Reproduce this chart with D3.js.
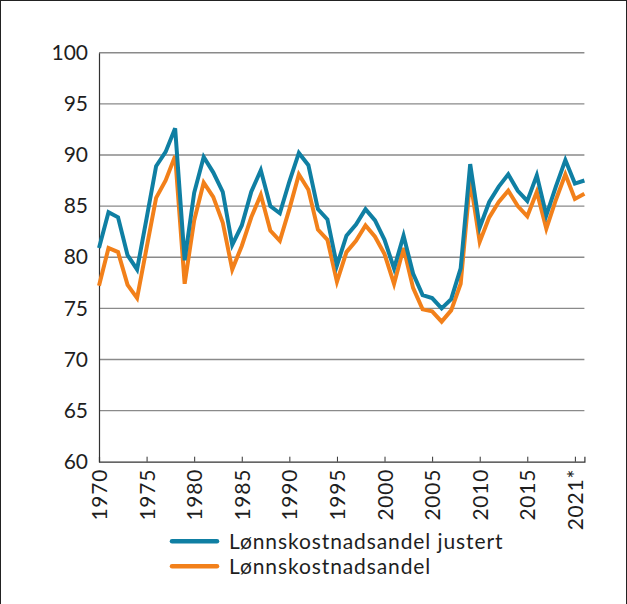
<!DOCTYPE html>
<html lang="no">
<head>
<meta charset="UTF-8">
<title>Lønnskostnadsandel</title>
<script src="https://d3js.org/d3.v7.min.js"></script>
<style>
  body { margin: 0; background: #fff; }
  svg text { font-family: Lato, "Open Sans", sans-serif; fill: #1e1e1e; }
</style>
</head>
<body>
<div id="chart"></div>
<script>
// years 1970-2021
var years = d3.range(1970, 2022);

var justert = [
  80.9, 84.4, 83.9, 80.2, 78.8, 83.8, 88.9, 90.3, 92.6, 79.7,
  86.3, 89.8, 88.3, 86.4, 81.2, 83.1, 86.4, 88.5, 85.0, 84.3,
  87.4, 90.2, 89.0, 84.7, 83.7, 79.2, 82.1, 83.2, 84.7, 83.6,
  81.7, 78.9, 82.1, 78.4, 76.3, 76.0, 75.0, 75.9, 78.9, 89.1,
  82.9, 85.4, 86.9, 88.1, 86.5, 85.5, 88.0, 84.1, 86.9, 89.5,
  87.2, 87.5
];

var andel = [
  77.2, 80.9, 80.5, 77.3, 76.0, 80.9, 85.8, 87.5, 89.9, 77.4,
  83.6, 87.3, 85.9, 83.4, 78.8, 81.1, 83.9, 86.1, 82.6, 81.6,
  84.7, 88.1, 86.6, 82.7, 81.7, 77.6, 80.5, 81.6, 83.1, 82.0,
  80.3, 77.4, 80.9, 77.0, 74.9, 74.7, 73.7, 74.8, 77.4, 87.6,
  81.5, 83.9, 85.4, 86.5, 85.0, 84.0, 86.4, 82.8, 85.6, 88.1,
  85.7, 86.2
];

var yTicks = [60, 65, 70, 75, 80, 85, 90, 95, 100];
var xTicks = [1970, 1975, 1980, 1985, 1990, 1995, 2000, 2005, 2010, 2015, 2020];
var xTickLabels = ["1970", "1975", "1980", "1985", "1990", "1995", "2000", "2005", "2010", "2015", "2021*"];

var seriesNames = ["Lønnskostnadsandel justert", "Lønnskostnadsandel"];
var colors = ["#0f7fa3", "#f2801a"];

var W = 627, H = 604;
var margin = { top: 52.7, right: 42.6, bottom: 142.3, left: 99 };
var fontSize = 21;

var svg = d3.select("#chart").append("svg")
  .attr("width", W)
  .attr("height", H);

// frame
svg.append("rect")
  .attr("x", 0.5).attr("y", 0.5)
  .attr("width", W - 1).attr("height", H + 5)
  .attr("fill", "none")
  .attr("stroke", "#222")
  .attr("stroke-width", 1);

var x = d3.scaleLinear()
  .domain([1970, 2021])
  .range([margin.left, W - margin.right]);

var y = d3.scaleLinear()
  .domain([60, 100])
  .range([H - margin.bottom, margin.top]);

// gridlines
svg.append("g")
  .selectAll("line")
  .data(yTicks.slice(1))
  .join("line")
  .attr("x1", x(1970)).attr("x2", x(2021))
  .attr("y1", d => y(d)).attr("y2", d => y(d))
  .attr("stroke", "#8a8a8a")
  .attr("stroke-width", 1.4);

// y axis
var yAxis = svg.append("g")
  .attr("transform", "translate(" + x(1970) + ",0)")
  .call(d3.axisLeft(y).tickValues(yTicks).tickSize(0).tickPadding(11));
yAxis.select(".domain").attr("stroke", "#333").attr("stroke-width", 1.2);
yAxis.selectAll("text").attr("font-size", fontSize).attr("fill", "#1e1e1e");

// x axis
var xAxis = svg.append("g")
  .attr("transform", "translate(0," + y(60) + ")")
  .call(d3.axisBottom(x).tickValues(xTicks).tickSize(-5)
    .tickFormat((d, i) => xTickLabels[i]));
xAxis.select(".domain").attr("stroke", "#333").attr("stroke-width", 1.2);
xAxis.selectAll(".tick line").attr("stroke", "#333");
xAxis.selectAll("text")
  .attr("font-size", fontSize)
  .attr("letter-spacing", "0.8px")
  .attr("fill", "#1e1e1e")
  .attr("transform", "rotate(-90)")
  .attr("text-anchor", "end")
  .attr("x", -7)
  .attr("y", 0)
  .attr("dy", "0.36em");

// lines
var line0 = d3.line().x((d, i) => x(years[i])).y(d => y(d));

[andel, justert].forEach(function (vals, k) {
  svg.append("path")
    .datum(vals)
    .attr("fill", "none")
    .attr("stroke", k === 0 ? colors[1] : colors[0])
    .attr("stroke-width", 4)
    .attr("stroke-linejoin", "miter")
    .attr("d", line0);
});

// legend
var legend = svg.append("g");
seriesNames.forEach(function (name, i) {
  var ly = 541.3 + i * 25;
  legend.append("line")
    .attr("x1", 172).attr("x2", 217)
    .attr("y1", ly).attr("y2", ly)
    .attr("stroke", colors[i])
    .attr("stroke-width", 4.5)
    .attr("stroke-linecap", "round");
  legend.append("text")
    .attr("x", 229).attr("y", ly)
    .attr("dy", "0.35em")
    .attr("font-size", fontSize)
    .attr("letter-spacing", "0.9px")
    .text(name);
});
</script>
</body>
</html>
